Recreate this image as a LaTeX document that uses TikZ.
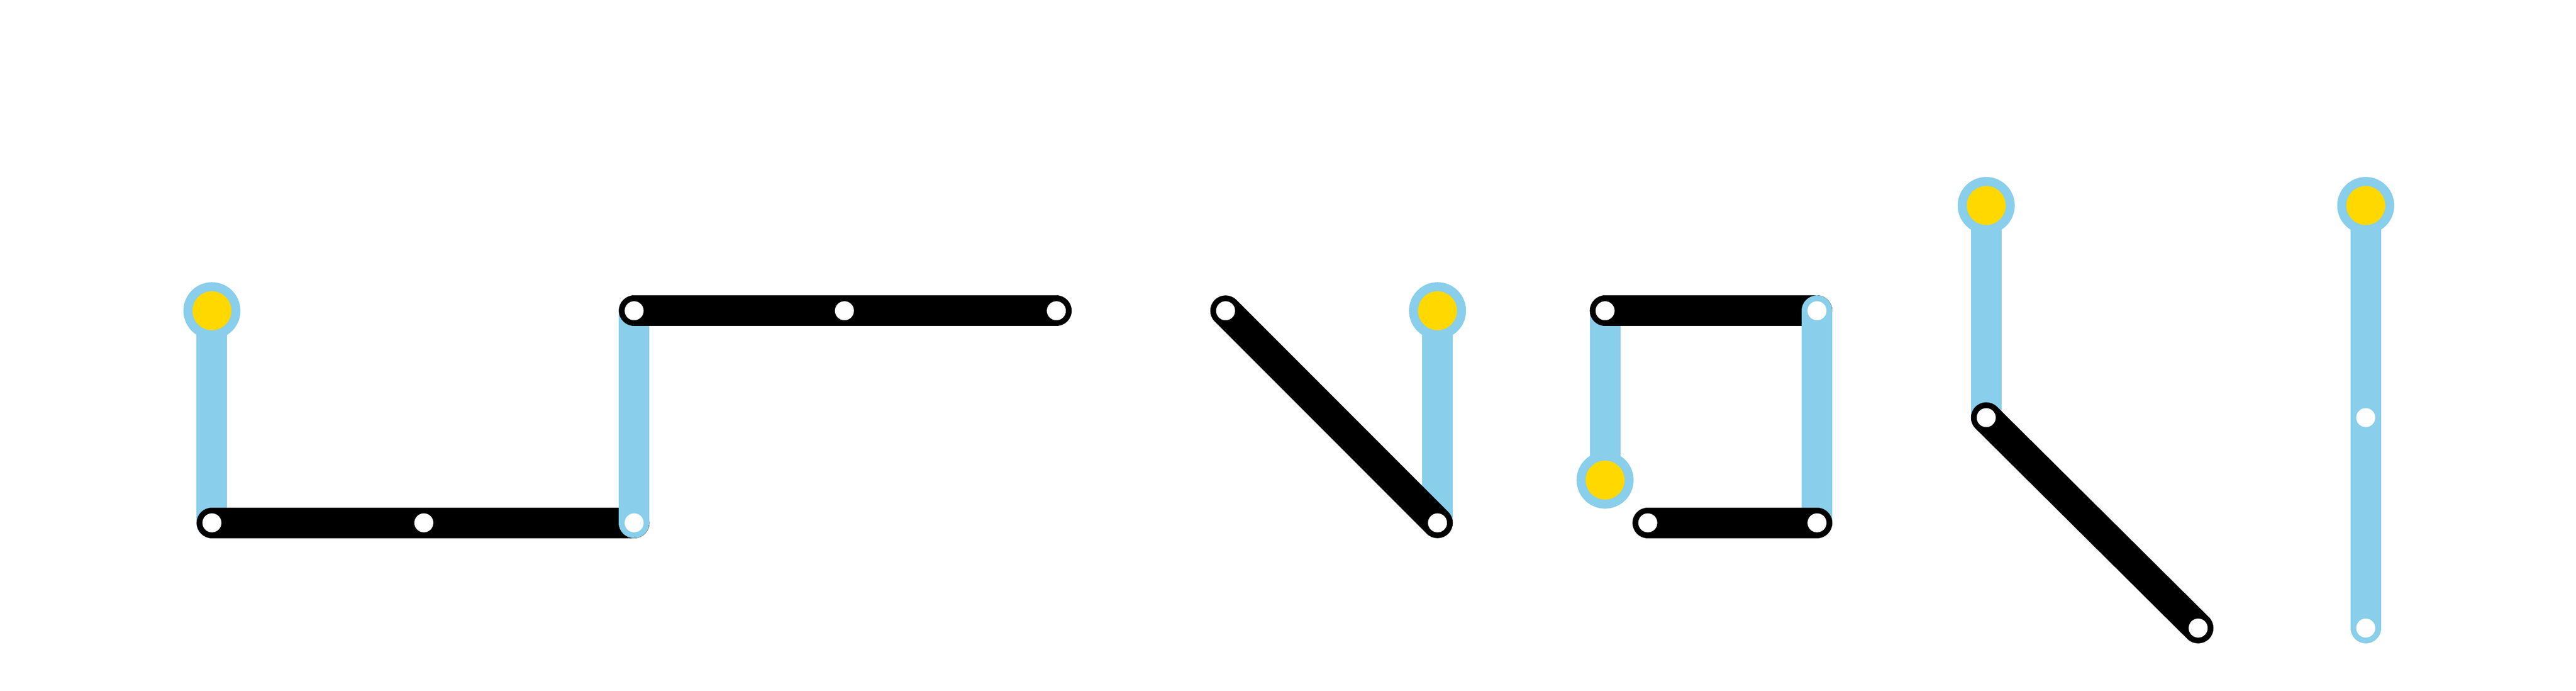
\documentclass[tikz,border=0pt]{standalone}
\usetikzlibrary{positioning}
\definecolor{skyline}{RGB}{137,206,234}
\definecolor{termgold}{RGB}{255,216,0}
\begin{document}
\begin{tikzpicture}[
		x=0.03112cm, y=-0.03112cm,
		blueseg/.style={
			draw=skyline,
			line width=0.58cm,
			line cap=round
		},
		blackseg/.style={
			draw=black,
			line width=0.58cm,
			line cap=round
		},
		stop/.style={
			circle,
			fill=white,
			inner sep=0pt,
			minimum size=0.36cm
		},
		term/.style={
			circle,
			fill=termgold,
			draw=skyline,
			line width=0.17cm,
			inner sep=0pt,
			minimum size=0.91cm
		}
		]
		\useasboundingbox (0,0) rectangle (1568,420);
		% first group
		\coordinate (a1) at (129,189);
		\coordinate (a2) at (129,318);
		\coordinate (a3) at (258,318);
		\coordinate (a4) at (386,318);
		\coordinate (a5) at (386,189);
		\coordinate (a6) at (514,189);
		\coordinate (a7) at (643,189);
		% second group
		\coordinate (b1) at (746,189);
		\coordinate (b2) at (875,318);
		\coordinate (b3) at (875,189);
		% third group
		\coordinate (c1) at (977,292);
		\coordinate (c2) at (977,189);
		\coordinate (c3) at (1106,189);
		\coordinate (c4) at (1106,318);
		\coordinate (c5) at (1003,318);
		% fourth and fifth groups
		\coordinate (d1) at (1209,125);
		\coordinate (d2) at (1209,254);
		\coordinate (d3) at (1338,382);
		\coordinate (e1) at (1440,125);
		\coordinate (e2) at (1440,254);
		\coordinate (e3) at (1440,382);

		\draw[blueseg] (a1) -- (a2);
		\draw[blackseg] (a2) -- (a4);
		\draw[blueseg] (a4) -- (a5);
		\draw[blackseg] (a5) -- (a7);
		\draw[blueseg] (b3) -- (b2);
		\draw[blackseg] (b1) -- (b2);
		\draw[blueseg] (c1) -- (c2);
		\draw[blackseg] (c2) -- (c3);
		\draw[blueseg] (c3) -- (c4);
		\draw[blackseg] (c4) -- (c5);
		\draw[blueseg] (d1) -- (d2);
		\draw[blackseg] (d2) -- (d3);
		\draw[blueseg] (e1) -- (e3);

		\foreach \p in {a2,a3,a4,a5,a6,a7,b1,b2,c2,c3,c4,c5,d2,d3,e2,e3}
			\node[stop] (s-\p) at (\p) {};
		\foreach \p in {a1,b3,c1,d1,e1}
			\node[term] (t-\p) at (\p) {};
	\end{tikzpicture}
\end{document}
